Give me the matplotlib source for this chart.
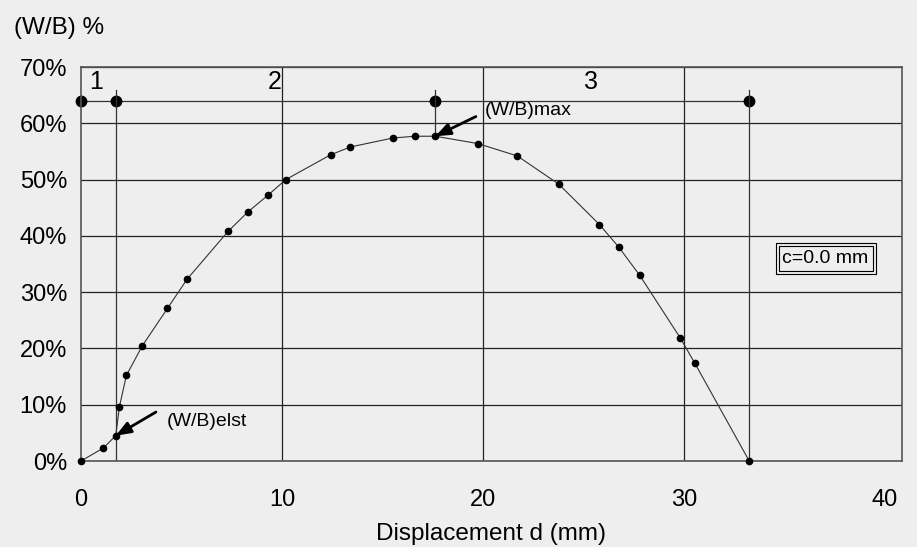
import matplotlib
matplotlib.use("Agg")
import matplotlib.pyplot as plt

plt.rcParams["font.family"] = ["Liberation Sans", "DejaVu Sans"]

# measured curve W/B (%) vs displacement d (mm)
disp = [0.0, 1.11, 1.73, 1.91, 2.26, 3.04, 4.30, 5.28, 7.32, 8.32, 9.33, 10.19,
        12.42, 13.41, 15.54, 16.62, 17.63, 19.75, 21.71, 23.77, 25.80, 26.76,
        27.80, 29.83, 30.54, 33.25]
wb = [0.0, 2.3, 4.5, 9.6, 15.2, 20.4, 27.1, 32.3, 40.8, 44.3, 47.3, 50.0,
      54.4, 55.8, 57.4, 57.7, 57.7, 56.4, 54.2, 49.2, 42.0, 38.0,
      33.0, 21.8, 17.4, 0.0]

# zone boundaries
bounds = [0.0, 1.73, 17.63, 33.25]
zone_y = 64.0
zone_labels = ["1", "2", "3"]
zone_label_x = [0.75, 9.66, 25.4]

xticks = [0, 10, 20, 30, 40]
xgrid = [10, 20, 30]
yticks = list(range(0, 71, 10))

elst = (1.73, 4.5)
wbmax = (17.63, 57.7)

BG = "#eeeeee"
fig = plt.figure(figsize=(9.17, 5.47), dpi=100, facecolor=BG)
ax = fig.add_axes([0.0883, 0.1572, 0.8953, 0.7203])
ax.set_facecolor(BG)

ax.set_xlim(0, 40.85)
ax.set_ylim(0, 70)
ax.set_xticks(xticks)
ax.set_yticks(yticks)
ax.set_yticklabels([f"{v}%" for v in yticks])
ax.tick_params(length=0, labelsize=17, colors="black")
ax.tick_params(axis="x", pad=20)
ax.tick_params(axis="y", pad=10)
ax.grid(True, axis="y", color="#222222", lw=0.9)
for gx in xgrid:
    ax.axvline(gx, color="#222222", lw=0.9)
for s in ax.spines.values():
    s.set_color("#555555")
    s.set_linewidth(1.2)

# zone lines
ax.plot([bounds[0], bounds[-1]], [zone_y, zone_y], color="#333333", lw=0.9)
ax.plot(bounds, [zone_y] * 4, "o", color="black", ms=7.5, clip_on=False)
ax.plot([bounds[1], bounds[1]], [0, 66], color="#333333", lw=0.9)
ax.plot([bounds[2], bounds[2]], [wbmax[1], 66], color="#333333", lw=0.9)
ax.plot([bounds[3], bounds[3]], [0, 66], color="#333333", lw=0.9)
for lab, lx in zip(zone_labels, zone_label_x):
    ax.text(lx, 67.3, lab, fontsize=18, ha="center", va="center")

# curve
ax.plot(disp, wb, "-", color="#333333", lw=0.8, marker="o", ms=4.5,
        mfc="black", mec="black", zorder=3, clip_on=False)

arrow = dict(arrowstyle="-|>,head_length=0.9,head_width=0.35", color="black",
             lw=2, shrinkA=0, shrinkB=0)
ax.annotate("", xy=elst, xytext=(3.73, 8.7), arrowprops=arrow)
ax.text(4.25, 7.0, "(W/B)elst", fontsize=14, va="center", ha="left")
ax.annotate("", xy=wbmax, xytext=(19.65, 61.2), arrowprops=arrow)
ax.text(20.1, 62.2, "(W/B)max", fontsize=14, va="center", ha="left")

ax.text(37.05, 36.0, "c=0.0 mm", fontsize=14, ha="center", va="center",
        bbox=dict(boxstyle="square,pad=0.2", fc=BG, ec="black", lw=0.8))
ax.text(37.05, 36.0, "c=0.0 mm", fontsize=14, ha="center", va="center",
        color="none",
        bbox=dict(boxstyle="square,pad=0.35", fc="none", ec="black", lw=0.8))

ax.set_xlabel("Displacement d (mm)", fontsize=17.5, labelpad=9)
fig.text(14 / 917, 1 - 28 / 547, "(W/B) %", fontsize=17.5, ha="left", va="center")

fig.savefig("out.png", dpi=100, facecolor=BG)
